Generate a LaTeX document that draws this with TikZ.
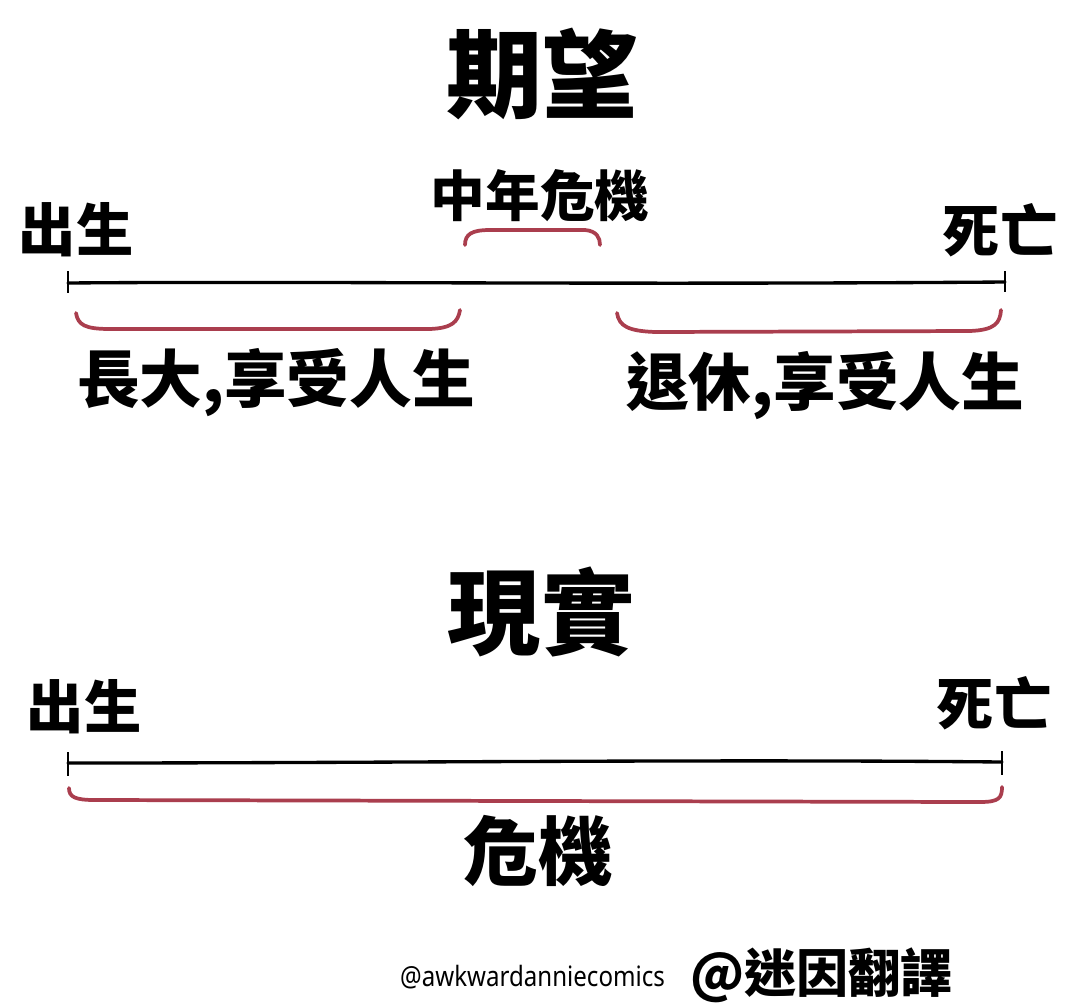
\documentclass[tikz,border=0pt]{standalone}
\usepackage{fontspec}
\newfontfamily\cjk{Noto Sans CJK TC}
\newfontfamily\latinf{Noto Sans}
\definecolor{bracered}{RGB}{170,62,78}
\tikzset{
  lbl/.style={inner sep=0pt, font=\cjk\bfseries},
  tline/.style={line width=2.5pt, black, line cap=round},
  tick/.style={line width=2pt, black},
  brace/.style={line width=2.8pt, bracered, line cap=round, line join=round},
}
\newcommand{\fs}[1]{\fontsize{#1pt}{#1pt}\selectfont}
\begin{document}
\begin{tikzpicture}[x=0.75pt,y=-0.75pt]
\useasboundingbox (0,0) rectangle (1080,1007);
\fill[white] (0,0) rectangle (1080,1007);
% ---------- Expectation ----------
\node[lbl, font=\cjk\bfseries\fs{72}] (t1) at (542,74) {期望};
\node[lbl, font=\cjk\bfseries\fs{41}] (mid) at (540,196) {中年危機};
\node[lbl, font=\cjk\bfseries\fs{43}] (b1) at (76,230) {出生};
\node[lbl, font=\cjk\bfseries\fs{43}] (d1) at (1000,230) {死亡};
\coordinate (s1) at (68,283);
\coordinate (e1) at (1005,282);
\draw[tline] (s1) .. controls (300,281) and (600,285) .. (e1);
\draw[tick] (68,271) -- (68,293);
\draw[tick] (1005,271) -- (1005,292);
% braces
\draw[brace] (76,313) .. controls (78,325) and (85,329) .. (110,329)
  -- (430,329) .. controls (452,328) and (458,322) .. (460,310);
\draw[brace] (465,245) .. controls (465,234) and (472,230) .. (490,230)
  -- (585,230) .. controls (597,231) and (600,238) .. (600,245);
\draw[brace] (617,313) .. controls (619,326) and (628,331) .. (655,332)
  -- (970,331) .. controls (995,330) and (1000,323) .. (1001,310);
\node[lbl, font=\cjk\bfseries\fs{47}] (l1) at (276,383) {長大,享受人生};
\node[lbl, font=\cjk\bfseries\fs{47}] (r1) at (825,386) {退休,享受人生};
% ---------- Reality ----------
\node[lbl, font=\cjk\bfseries\fs{70}] (t2) at (541,612) {現實};
\node[lbl, font=\cjk\bfseries\fs{43}] (b2) at (84,707) {出生};
\node[lbl, font=\cjk\bfseries\fs{43}] (d2) at (994,703) {死亡};
\coordinate (s2) at (68,763);
\coordinate (e2) at (1002,762);
\draw[tline] (s2) .. controls (400,763) and (700,759) .. (e2);
\draw[tick] (68,752) -- (68,776);
\draw[tick] (1002,751) -- (1002,775);
\draw[brace] (69,788) .. controls (69,797) and (75,800) .. (95,800)
  -- (980,802) .. controls (999,802) and (1002,798) .. (1002,787);
\node[lbl, font=\cjk\bfseries\fs{56}] (c2) at (538,851) {危機};
% ---------- credits ----------
\node[inner sep=0pt, font=\latinf\fs{21}, xscale=0.86, anchor=west] (cr1) at (400,977) {@awkwardanniecomics};
\node[lbl, font=\cjk\bfseries\fs{39}, anchor=west] (cr2) at (690,975) {@迷因翻譯};
\end{tikzpicture}
\end{document}
